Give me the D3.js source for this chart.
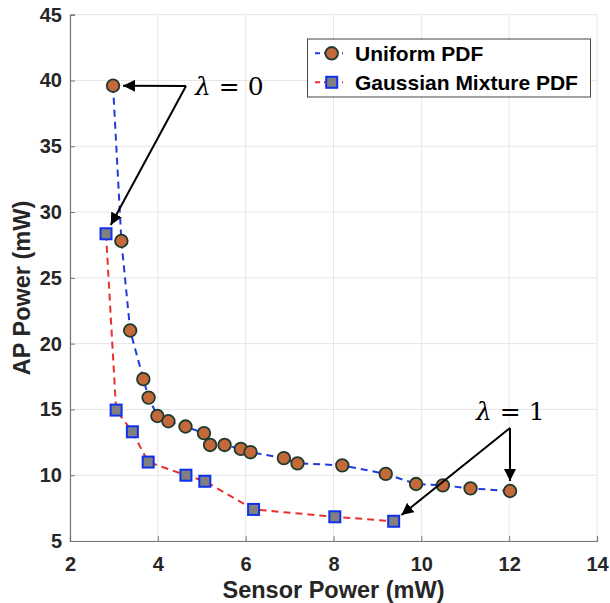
<!DOCTYPE html>
<html><head><meta charset="utf-8">
<script src="https://cdn.jsdelivr.net/npm/d3@7"></script>
<style>body{margin:0;background:#fff}svg{display:block}</style>
</head><body>
<svg id="c" width="610" height="603"></svg>
<script>
const uniformX = [2.98,3.17,3.37,3.67,3.79,3.99,4.24,4.63,5.05,5.19,5.52,5.89,6.11,6.87,7.18,8.20,9.19,9.88,10.49,11.12,12.02];
const uniformY = [39.6,27.8,21.0,17.3,15.9,14.5,14.1,13.7,13.2,12.3,12.3,12.0,11.75,11.3,10.9,10.75,10.1,9.33,9.23,9.0,8.8];
const gaussX = [2.82,3.05,3.42,3.78,4.64,5.07,6.18,8.03,9.37];
const gaussY = [28.35,14.95,13.3,11.0,10.0,9.54,7.4,6.84,6.5];
const xTicks = [2,4,6,8,10,12,14];
const yTicks = [5,10,15,20,25,30,35,40,45];
const seriesNames = ["Uniform PDF","Gaussian Mixture PDF"];
const annotations = [
  {label:"λ = 0", text:[195,95], from:[186,86], to:[[2.98,39.6],[2.82,28.35]]},
  {label:"λ = 1", text:[476,420], from:[510,428], to:[[12.02,8.8],[9.37,6.5]]}
];

const svg = d3.select("#c");
const L=70, R=597, T=14.7, B=541;
const x = d3.scaleLinear().domain([2,14]).range([L,R]);
const y = d3.scaleLinear().domain([5,45]).range([B,T]);

// grid
const g = svg.append("g");
g.selectAll(".gx").data(xTicks).join("line")
  .attr("x1",d=>x(d)).attr("x2",d=>x(d)).attr("y1",T).attr("y2",B)
  .attr("stroke","#e6e6e6").attr("stroke-width",1);
g.selectAll(".gy").data(yTicks).join("line")
  .attr("x1",L).attr("x2",R).attr("y1",d=>y(d)).attr("y2",d=>y(d))
  .attr("stroke","#e6e6e6").attr("stroke-width",1);

// axes
const fontTick = "Liberation Sans, Arial, sans-serif";
const xAxis = d3.axisBottom(x).tickValues(xTicks).tickSize(-5).tickPadding(11).tickFormat(d3.format("d"));
const yAxis = d3.axisLeft(y).tickValues(yTicks).tickSize(-5).tickPadding(8).tickFormat(d3.format("d"));
const gx = svg.append("g").attr("transform",`translate(0,${B})`).call(xAxis);
const gy = svg.append("g").attr("transform",`translate(${L},0)`).call(yAxis);
[gx,gy].forEach(a=>{
  a.select(".domain").attr("stroke","#777").attr("stroke-width",1.2);
  a.selectAll(".tick line").attr("stroke","#777");
  a.selectAll(".tick text").attr("font-family",fontTick).attr("font-weight","bold")
   .attr("font-size",20).attr("fill","#262626");
});
gx.selectAll(".tick text").attr("dy","0.95em");

svg.append("text").attr("x",(L+R)/2).attr("y",598).attr("text-anchor","middle")
  .attr("font-family",fontTick).attr("font-weight","bold").attr("font-size",23.5).attr("fill","#262626")
  .text("Sensor Power (mW)");
svg.append("text").attr("transform",`translate(30,288) rotate(-90)`).attr("text-anchor","middle")
  .attr("font-family",fontTick).attr("font-weight","bold").attr("font-size",23.5).attr("fill","#262626")
  .text("AP Power (mW)");

// lines
const uni = uniformX.map((v,i)=>[v,uniformY[i]]);
const gau = gaussX.map((v,i)=>[v,gaussY[i]]);
const line = d3.line().x(d=>x(d[0])).y(d=>y(d[1]));
svg.append("path").attr("d",line(gau)).attr("fill","none").attr("stroke","#e8302c")
  .attr("stroke-width",2).attr("stroke-dasharray","7,5");
svg.append("path").attr("d",line(uni)).attr("fill","none").attr("stroke","#1f3bdc")
  .attr("stroke-width",2).attr("stroke-dasharray","7,5");

// markers
const sq = 11;
svg.selectAll(".sq").data(gau).join("rect")
  .attr("x",d=>x(d[0])-sq/2).attr("y",d=>y(d[1])-sq/2).attr("width",sq).attr("height",sq)
  .attr("fill","#808080").attr("stroke","#1030f0").attr("stroke-width",2);
svg.selectAll(".ci").data(uni).join("circle")
  .attr("cx",d=>x(d[0])).attr("cy",d=>y(d[1])).attr("r",6.3)
  .attr("fill","#c4693a").attr("stroke","#1e3a2e").attr("stroke-width",1.8);

// annotations
const defs = svg.append("defs");
defs.append("marker").attr("id","ah").attr("viewBox","0 0 10 10").attr("refX",10).attr("refY",5)
  .attr("markerWidth",6).attr("markerHeight",6).attr("orient","auto-start-reverse")
  .attr("markerUnits","strokeWidth")
  .append("path").attr("d","M0,0 L10,5 L0,10 z").attr("fill","#000");
annotations.forEach(a=>{
  svg.append("text").attr("x",a.text[0]).attr("y",a.text[1])
    .attr("font-family","DejaVu Serif, Liberation Serif, serif").attr("font-size",25).attr("fill","#000")
    .call(t=>{
      t.append("tspan").attr("font-style","italic").text(a.label.slice(0,1));
      t.append("tspan").text(a.label.slice(1));
    });
  a.to.forEach(p=>{
    const px=x(p[0]), py=y(p[1]);
    const dx=px-a.from[0], dy=py-a.from[1], len=Math.hypot(dx,dy);
    const off=10;
    svg.append("line").attr("x1",a.from[0]).attr("y1",a.from[1])
      .attr("x2",px-dx/len*off).attr("y2",py-dy/len*off)
      .attr("stroke","#000").attr("stroke-width",2).attr("marker-end","url(#ah)");
  });
});

// legend
const lg = svg.append("g");
lg.append("rect").attr("x",307.5).attr("y",39).attr("width",283).attr("height",58)
  .attr("fill","#fff").attr("stroke","#444").attr("stroke-width",1);
const rows=[53.3,82.3];
rows.forEach((ry,i)=>{
  lg.append("line").attr("x1",315).attr("x2",343).attr("y1",ry).attr("y2",ry)
    .attr("stroke",i===0?"#1f3bdc":"#e8302c").attr("stroke-width",2).attr("stroke-dasharray","5,4");
  if(i===0) lg.append("circle").attr("cx",331.7).attr("cy",ry).attr("r",6.3)
    .attr("fill","#c4693a").attr("stroke","#1e3a2e").attr("stroke-width",1.8);
  else lg.append("rect").attr("x",331.7-sq/2).attr("y",ry-sq/2).attr("width",sq).attr("height",sq)
    .attr("fill","#808080").attr("stroke","#1030f0").attr("stroke-width",2);
  lg.append("text").attr("x",355).attr("y",ry+7.5).attr("font-family",fontTick).attr("font-weight","bold")
    .attr("font-size",21).attr("fill","#000").text(seriesNames[i]);
});
</script>
</body></html>
